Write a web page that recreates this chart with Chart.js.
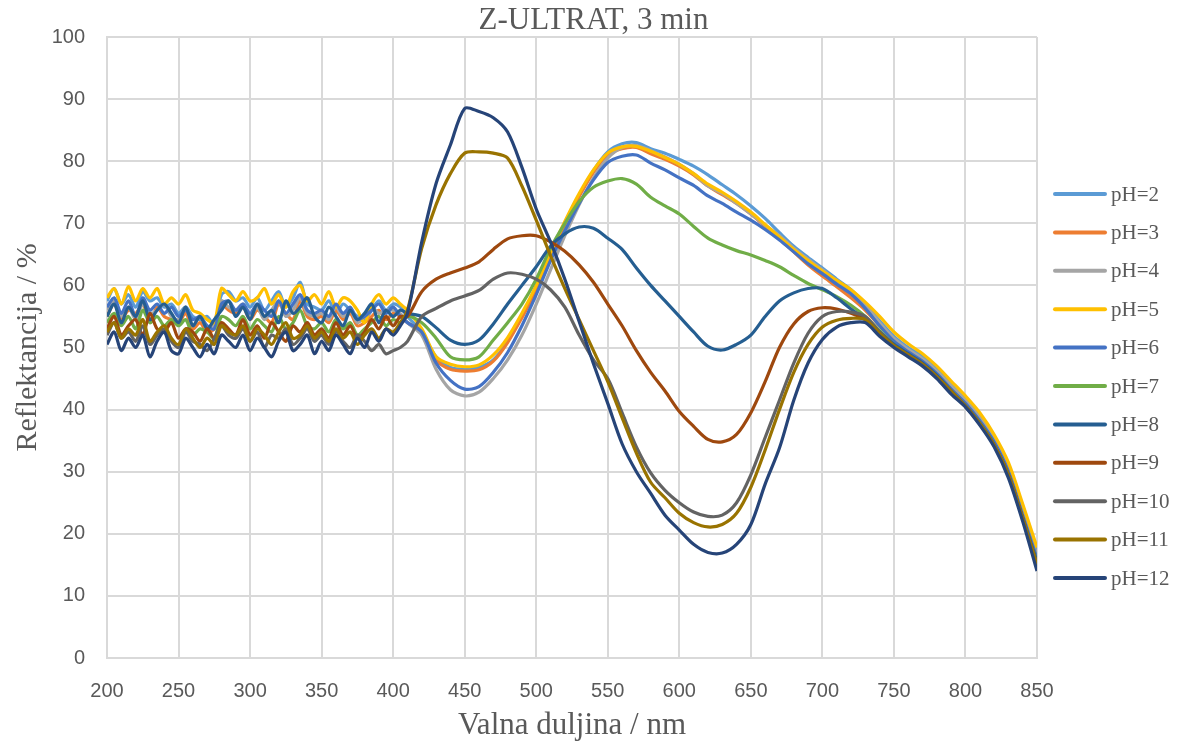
<!DOCTYPE html>
<html>
<head>
<meta charset="utf-8">
<script src="https://cdn.jsdelivr.net/npm/chart.js@4.4.1/dist/chart.umd.min.js"></script>
<style>
  html, body { margin: 0; background: #fff; }
</style>
</head>
<body>
<canvas id="chart" width="1187" height="747"></canvas>
<script>
// wavelengths (nm): 5 nm steps through the noisy part, 10 nm after
const wavelengths = [
  200, 205, 210, 215, 220, 225, 230, 235, 240, 245,
  250, 255, 260, 265, 270, 275, 280, 285, 290, 295,
  300, 305, 310, 315, 320, 325, 330, 335, 340, 345,
  350, 355, 360, 365, 370, 375, 380, 385, 390, 395,
  400, 405, 410,
  420, 430, 440, 450, 460, 470, 480, 490, 500, 510,
  520, 530, 540, 550, 560, 570, 580, 590, 600, 610,
  620, 630, 640, 650, 660, 670, 680, 690, 700, 710,
  720, 730, 740, 750, 760, 770, 780, 790, 800, 810,
  820, 830, 840, 850
];

const chartTitle = 'Z-ULTRAT, 3 min';
const seriesLabels = ['pH=2', 'pH=3', 'pH=4', 'pH=5', 'pH=6', 'pH=7', 'pH=8', 'pH=9', 'pH=10', 'pH=11', 'pH=12'];
const seriesColors = ['#5B9BD5', '#ED7D31', '#A5A5A5', '#FFC000', '#4472C4', '#70AD47', '#255E91', '#9E480E', '#636363', '#997300', '#264478'];

const ph2 = [
  57.5, 59.5, 57, 58.5, 56.5, 59, 57.5, 58, 56.5, 57,
  55.5, 56.5, 55, 54.5, 55, 53.5, 58.5, 59, 57.5, 58,
  56.5, 58, 56, 57.5, 59, 56.5, 58, 60.5, 57, 56.5,
  56, 57.5, 55.5, 57, 56, 55, 54.5, 56, 57.5, 56,
  57, 56.5, 55,
  52.5, 48.5, 46.8, 46.5, 46.8, 48, 51, 55, 59.5, 65,
  70, 74.5, 78.5, 81.5, 82.8, 83, 82, 81.3, 80.3, 79.2,
  77.8, 76.2, 74.6, 72.8, 70.8, 68.5, 66.3, 64.5, 62.8, 61,
  59.3, 57, 54.3, 51.8, 50, 48.5, 46.5, 44, 41.6, 38.8,
  35.4, 30.8, 24, 17
];
const ph3 = [
  55, 57, 54.5, 56, 55.5, 57, 54, 56.5, 55, 54.5,
  54, 55.5, 53, 54, 52.5, 53, 57, 56, 55.5, 56.5,
  54.5, 56, 55, 54, 57, 55.5, 54.5, 57.5, 55, 54.5,
  55, 54, 56, 54.5, 55.5, 53.5, 54, 55, 56, 54.5,
  55.5, 55, 54,
  52.5, 48, 46.5, 46.2, 46.4, 47.8, 50.8, 54.8, 59.2, 64.6,
  69.8, 74.3, 78.2, 81, 82, 82.2, 81.2, 80.3, 79.2, 77.8,
  76, 74.6, 73.2, 71.5, 69.5, 67.5, 65.4, 63.3, 61.5, 59.8,
  58, 56, 53.5, 51.3, 49.6, 48, 46, 43.6, 41.2, 38.4,
  35, 30.3, 23.3, 16.3
];
const ph4 = [
  56, 57.5, 55, 56.5, 54.5, 57, 55.5, 56, 57, 55,
  54.5, 56.5, 53.5, 55, 53, 54, 57.5, 56.5, 56, 57,
  55, 56.5, 54.5, 56, 57.5, 55, 56, 58, 55.5, 55,
  55.5, 54.5, 56.5, 55, 56, 54, 55, 56.5, 55.5, 56,
  56, 55.5, 54,
  52, 46.5, 43.2, 42.2, 42.8, 45, 48, 52, 57, 62.5,
  68, 73, 77.3, 80.5, 82.2, 82.5, 81.7, 80.7, 79.5, 78,
  76, 74.8, 73.2, 71.5, 69.7, 68, 66, 64.2, 62.5, 60.8,
  59, 56.8, 54, 51.5, 49.7, 48.2, 46.2, 43.8, 41.4, 38.6,
  35.2, 30.5, 23.5, 16.5
];
const ph5 = [
  58, 59.5, 57, 59.8, 57.5, 59.5, 58, 59.5, 57, 58,
  57, 58.5, 56, 55.5, 54.5, 54, 59.5, 58.5, 57.5, 59,
  57.5, 58, 59.5, 57, 58.5, 56.5, 59, 60, 57.5, 58.5,
  57, 59, 56.5, 58, 57.5, 56, 54, 57, 58.5, 57,
  58, 57, 56,
  53, 48.5, 47.3, 46.9, 47.2, 48.8, 51.6, 55.5, 60, 65.3,
  70.3, 74.8, 78.6, 81.3, 82.3, 82.4, 81.6, 80.6, 79.5, 78,
  76.3, 75, 73.5, 71.8, 69.8, 67.8, 65.8, 64, 62.3, 60.8,
  59.3, 57.3, 55, 52.5, 50.6, 49, 47, 44.6, 42.2, 39.5,
  36, 31.5, 24.8, 17.8
];
const ph6 = [
  56.5, 58, 55.5, 57.5, 55, 58, 56, 57, 55.5, 56.5,
  55, 56, 54.5, 55, 53.5, 53, 57, 57.5, 56, 57,
  55.5, 57, 56, 55, 57.5, 55.5, 57, 58.5, 56, 55.5,
  56, 55, 57, 55.5, 56.5, 54.5, 55, 56, 57, 55.5,
  56.5, 55, 54,
  52.5, 47.5, 44.7, 43.3, 43.7, 46, 49.2, 53.5, 58.5, 64,
  68.8, 73.2, 77, 79.8, 80.8, 81, 79.7, 78.6, 77.3, 76.1,
  74.4, 73.2, 71.8, 70.5, 69, 67.3, 65.4, 63.5, 61.9, 60.2,
  58.6, 56.3, 53.5, 51, 49.3, 47.8, 45.8, 43.3, 41, 38.2,
  34.8, 30, 23, 16
];
const ph7 = [
  54, 55.5, 53.5, 55, 53, 56, 54, 55, 53.5, 54.5,
  53.5, 54.5, 52, 53, 52.5, 51.5, 55, 54.5, 53.5, 55,
  53, 54.5, 53.5, 52.5, 55, 53, 54, 56, 53.5, 53,
  54, 52.5, 54.5, 53, 54, 52, 53, 54, 55, 53.5,
  54.5, 54, 55,
  54, 51.5, 48.5, 48, 48.5, 51.2, 54, 57, 61, 66,
  70, 73.5, 75.8, 76.8, 77.2, 76.3, 74.2, 72.8, 71.5, 69.5,
  67.6, 66.5, 65.6, 64.9, 64, 63, 61.6, 60.3, 59.3, 58.2,
  56.8, 55, 52.7, 50.5, 48.8, 47.2, 45.2, 42.8, 40.5, 37.8,
  34.3, 29.5, 22.5, 15.5
];
const ph8 = [
  55, 57, 54, 56.5, 55, 57.5, 54.5, 56, 57, 55.5,
  54, 56.5, 53.5, 55, 53, 54.5, 56, 57.5, 55, 56.5,
  54.5, 57, 55, 56, 54, 57.5, 55.5, 56.5, 58, 55,
  54, 56.5, 55, 53.5, 56, 54.5, 55.5, 57, 54, 56,
  55, 56, 55.5,
  55, 53.2, 51.2, 50.5, 51.2, 53.8, 57, 60, 63, 66.3,
  68.3, 69.4, 69.2, 67.6, 65.8, 62.8, 60, 57.5, 55, 52.5,
  50.2, 49.6, 50.5, 52, 55, 57.5, 58.8, 59.5, 59.5, 58,
  56.2, 54.5, 52.5, 50.5, 49, 47.5, 45.5, 43, 40.6, 37.8,
  34.3, 29.5, 22.5, 15.5
];
const ph9 = [
  53, 55, 52, 53.5, 54.5, 52, 55.5, 53, 52.5, 54,
  51.5, 53, 52.5, 51, 53, 51.5, 54, 53, 52, 54.5,
  52, 53.5, 51.5, 54, 52.5, 51, 53.5, 52.5, 54, 52,
  53, 51.5, 54, 52, 53.5, 51.5, 52.5, 54.5, 53, 55,
  53.5, 55, 55,
  59, 61, 62, 62.8, 63.8, 65.8, 67.5, 68, 68, 67,
  65.5, 63.3, 60.5, 57, 53.5, 49.5, 46, 43, 39.7, 37.3,
  35.2, 34.8, 36, 39.5, 44.5, 50, 53.8, 55.8, 56.4, 56.2,
  55.5, 54.5, 52.4, 50.3, 48.8, 47.3, 45.3, 42.8, 40.5, 37.7,
  34.3, 29.5, 22.5, 15
];
const ph10 = [
  52, 54, 51.5, 52.5, 51, 53.5, 50.5, 52, 53, 51,
  50, 52.5, 51, 50.5, 49.5, 51.5, 53.5, 52, 51.5, 53,
  51, 52.5, 50, 52, 51.5, 53, 50.5, 51.5, 53, 51,
  52, 50.5, 52.5, 51, 50, 52, 51, 49.5, 50.5, 49,
  49.5, 50, 51,
  55, 56.3, 57.5, 58.3, 59.2, 61, 62, 61.8, 61, 59.3,
  56.5, 52, 48, 45, 39.5, 34, 29.8, 27, 25, 23.5,
  22.8, 23, 25, 29.5, 35.5, 41.5, 47.5, 52.3, 55, 55.8,
  55.7, 55, 52.5, 50.3, 48.8, 47.3, 45.3, 42.8, 40.5, 37.7,
  34.3, 29.5, 22.5, 15
];
const ph11 = [
  52.5, 54, 51.5, 53, 52, 54.5, 51, 52.5, 53.5, 51.5,
  50.5, 53, 51.5, 50, 51.5, 50.5, 53.5, 52.5, 52, 53.5,
  51, 53, 52, 50.5, 52.5, 54, 51.5, 52, 53.5, 51.5,
  52.5, 51, 53, 51.5, 52.5, 50.5, 52, 53, 51.5, 53,
  52.5, 54, 56,
  66, 73, 78, 81.3, 81.5, 81.3, 80.5, 76, 70.5, 64.8,
  59.5, 54.5, 49.5, 44.5, 38.7, 33, 28.3, 25.8, 23.3, 21.8,
  21.1, 21.5, 23.3, 27.5, 33.5, 40, 46, 50.5, 53.3, 54.4,
  54.7, 54.5, 52.3, 50.3, 48.8, 47.3, 45.3, 43, 40.6, 37.8,
  34.3, 29.5, 22.5, 15
];
const ph12 = [
  50.5, 52.5, 49.5, 51.5, 50, 52, 48.5, 51, 52.5, 49.5,
  49, 51.5, 50, 48.5, 50.5, 49, 52, 51, 50, 52,
  49.5, 51.5, 50, 48.5, 51, 52.5, 49.5, 50.5, 52, 49,
  51, 49.5, 52, 50.5, 49, 51.5, 50, 52.5, 51, 53,
  52, 53.5, 55.5,
  67, 76.4, 82.6, 88.5, 88, 87, 84.7, 79, 72.3, 67,
  61, 54.2, 47.4, 41, 34.5, 30, 26.5, 23, 20.6, 18.3,
  17, 16.9, 18.3, 21.5, 28, 33.8, 41.5, 47.5, 51.3, 53.3,
  54, 54, 51.8, 50, 48.5, 47, 45, 42.5, 40.4, 37.5,
  34, 29, 22, 14
];

const seriesValues = [ph2, ph3, ph4, ph5, ph6, ph7, ph8, ph9, ph10, ph11, ph12];

const textColor = '#595959';
const gridColor = '#D9D9D9';
const serif = '"Liberation Serif", "Times New Roman", serif';
const sans = '"Liberation Sans", Arial, sans-serif';

// title and legend drawn by hand so they sit where Excel put them
const excelDecor = {
  id: 'excelDecor',
  afterDraw(chart) {
    const { ctx, width } = chart;
    ctx.save();
    ctx.fillStyle = textColor;
    ctx.font = `31px ${serif}`;
    ctx.textAlign = 'center';
    ctx.textBaseline = 'middle';
    ctx.fillText(chartTitle, width / 2, 21);

    ctx.font = `21px ${serif}`;
    ctx.textAlign = 'left';
    chart.data.datasets.forEach((ds, i) => {
      const y = 194 + i * 38.4;
      ctx.strokeStyle = ds.borderColor;
      ctx.lineWidth = 4;
      ctx.lineCap = 'round';
      ctx.beginPath();
      ctx.moveTo(1055, y);
      ctx.lineTo(1105, y);
      ctx.stroke();
      ctx.fillText(ds.label, 1111, y + 1);
    });
    ctx.restore();
  },
};

const datasets = seriesLabels.map((label, i) => ({
  label,
  data: wavelengths.map((x, k) => ({ x, y: seriesValues[i][k] })),
  borderColor: seriesColors[i],
  backgroundColor: seriesColors[i],
  borderWidth: 3.2,
  pointRadius: 0,
  tension: 0.3,
  fill: false,
  order: 20 - i, // later series on top, like Excel
}));

new Chart(document.getElementById('chart'), {
  type: 'line',
  data: { datasets },
  plugins: [excelDecor],
  options: {
    responsive: false,
    animation: false,
    layout: { padding: { left: 0, right: 150, top: 37, bottom: 0 } },
    plugins: {
      legend: { display: false },
      tooltip: { enabled: false },
      title: { display: false },
    },
    scales: {
      x: {
        type: 'linear',
        min: 200,
        max: 850,
        ticks: { stepSize: 50, color: textColor, font: { family: sans, size: 20 }, padding: 21, maxRotation: 0 },
        grid: { color: gridColor, lineWidth: 2, drawTicks: false },
        border: { color: gridColor, width: 2 },
        title: {
          display: true,
          text: 'Valna duljina / nm',
          color: textColor,
          font: { family: serif, size: 31 },
          padding: { top: 0, bottom: 3 },
        },
        afterFit: (scale) => { scale.height = 89; },
      },
      y: {
        min: 0,
        max: 100,
        ticks: { stepSize: 10, color: textColor, font: { family: sans, size: 20 }, padding: 22 },
        grid: { color: gridColor, lineWidth: 2, drawTicks: false },
        border: { color: gridColor, width: 2 },
        title: {
          display: true,
          text: 'Reflektancija / %',
          color: textColor,
          font: { family: serif, size: 30 },
          padding: { top: 10, bottom: 0 },
        },
        afterFit: (scale) => { scale.width = 107; },
      },
    },
  },
});
</script>
</body>
</html>
